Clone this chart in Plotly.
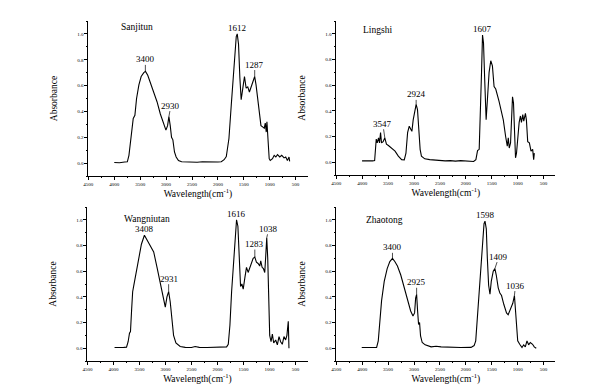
import plotly.graph_objects as go

# ---------------- data ----------------
sanjitun_wn = [4000, 3900, 3800, 3748, 3717, 3690, 3672, 3634, 3602, 3570, 3525, 3481, 3430, 3398, 3354,
               3303, 3239, 3175, 3111, 3048, 3003, 2971, 2946, 2920, 2895, 2869, 2838, 2806, 2761, 2700,
               2600, 2500, 2400, 2300, 2200, 2100, 2000, 1935, 1880, 1838, 1787, 1742, 1710, 1678, 1646,
               1627, 1602, 1576, 1551, 1519, 1487, 1455, 1424, 1392, 1354, 1315, 1290, 1264, 1232, 1201,
               1169, 1137, 1105, 1086, 1067, 1054, 1035, 1010, 990, 946, 914, 882, 850, 806, 768, 723,
               691, 659, 627, 615]
sanjitun_abs = [0.005, 0.003, 0.008, 0.01, 0.06, 0.15, 0.24, 0.345, 0.37, 0.50, 0.605, 0.67, 0.70, 0.71, 0.68,
                0.62, 0.55, 0.475, 0.38, 0.31, 0.255, 0.29, 0.36, 0.29, 0.20, 0.18, 0.086, 0.047, 0.02, 0.01,
                0.008, 0.01, 0.007, 0.01, 0.008, 0.006, 0.008, 0.01, 0.026, 0.05, 0.19, 0.45, 0.605, 0.79, 0.98,
                1.0, 0.92, 0.66, 0.49, 0.58, 0.67, 0.58, 0.59, 0.55, 0.59, 0.64, 0.67, 0.605, 0.50, 0.40,
                0.29, 0.28, 0.27, 0.31, 0.24, 0.32, 0.19, 0.034, 0.02, 0.034, 0.06, 0.047, 0.065, 0.047, 0.06, 0.04,
                0.047, 0.02, 0.047, 0.013]

lingshi_wn = [4003, 3900, 3800, 3760, 3748, 3729, 3710, 3685, 3666, 3646, 3627, 3596, 3564, 3532, 3494,
              3430, 3366, 3303, 3239, 3188, 3156, 3124, 3092, 3060, 3041, 3016, 2984, 2959, 2933, 2908,
              2882, 2857, 2793, 2697, 2600, 2500, 2400, 2300, 2200, 2100, 2000, 1900, 1850, 1806, 1774,
              1742, 1723, 1697, 1678, 1659, 1634, 1608, 1583, 1551, 1519, 1487, 1455, 1423, 1360, 1328,
              1277, 1232, 1200, 1181, 1162, 1137, 1118, 1099, 1080, 1061, 1041, 1022, 997, 971, 946,
              927, 901, 882, 850, 831, 806, 774, 742, 710, 691, 678]
lingshi_abs = [0.01, 0.008, 0.01, 0.012, 0.06, 0.18, 0.15, 0.19, 0.15, 0.23, 0.15, 0.16, 0.19, 0.14, 0.13,
               0.11, 0.086, 0.047, 0.02, 0.018, 0.07, 0.23, 0.28, 0.255, 0.24, 0.33, 0.42, 0.45, 0.41, 0.25,
               0.10, 0.047, 0.026, 0.02, 0.015, 0.012, 0.01, 0.012, 0.008, 0.012, 0.01, 0.01, 0.005, 0.02, 0.09,
               0.10, 0.31, 0.70, 0.99, 0.93, 0.62, 0.33, 0.49, 0.70, 0.79, 0.75, 0.59, 0.57, 0.475, 0.42,
               0.33, 0.20, 0.125, 0.19, 0.11, 0.15, 0.41, 0.51, 0.46, 0.23, 0.034, 0.07, 0.23, 0.31, 0.36,
               0.31, 0.37, 0.32, 0.38, 0.33, 0.16, 0.15, 0.086, 0.10, 0.02, 0.07]

wangniutan_wn = [3978, 3900, 3800, 3748, 3717, 3691, 3672, 3650, 3630, 3608, 3557, 3513, 3462, 3404, 3354,
                 3290, 3226, 3162, 3099, 3048, 3003, 2971, 2939, 2908, 2876, 2844, 2799, 2717, 2620, 2500,
                 2430, 2350, 2200, 2000, 1857, 1825, 1793, 1761, 1729, 1697, 1666, 1634, 1608, 1583, 1557,
                 1532, 1506, 1474, 1443, 1411, 1379, 1347, 1315, 1283, 1252, 1220, 1188, 1169, 1143, 1118,
                 1092, 1073, 1054, 1035, 1016, 997, 971, 946, 920, 882, 850, 818, 787, 755, 723,
                 691, 666, 640, 627]
wangniutan_abs = [0.005, 0.004, 0.006, 0.008, 0.05, 0.116, 0.13, 0.30, 0.44, 0.49, 0.61, 0.72, 0.81, 0.88, 0.84,
                  0.80, 0.75, 0.63, 0.515, 0.40, 0.32, 0.40, 0.44, 0.36, 0.21, 0.10, 0.04, 0.013, 0.006, 0.005,
                  0.013, 0.006, 0.005, 0.006, 0.006, 0.01, 0.03, 0.18, 0.44, 0.64, 0.82, 1.0, 0.95, 0.70, 0.48,
                  0.50, 0.46, 0.55, 0.63, 0.59, 0.63, 0.66, 0.70, 0.71, 0.67, 0.66, 0.64, 0.68, 0.63, 0.62,
                  0.59, 0.72, 0.86, 0.70, 0.36, 0.10, 0.05, 0.11, 0.04, 0.064, 0.026, 0.09, 0.05, 0.03, 0.09,
                  0.064, 0.10, 0.21, 0.0]

zhaotong_wn = [4009, 3900, 3800, 3722, 3690, 3658, 3626, 3575, 3518, 3467, 3416, 3371, 3320, 3256, 3193,
               3129, 3065, 3020, 2989, 2969, 2950, 2931, 2912, 2893, 2874, 2842, 2785, 2670, 2574, 2478,
               2300, 2100, 1900, 1840, 1809, 1777, 1745, 1713, 1681, 1649, 1630, 1605, 1585, 1560, 1534,
               1509, 1471, 1439, 1413, 1375, 1343, 1311, 1266, 1215, 1183, 1139, 1094, 1062, 1043, 1024,
               999, 960, 916, 884, 852, 820, 788, 756, 712, 680, 641]
zhaotong_abs = [0.005, 0.004, 0.005, 0.006, 0.057, 0.21, 0.37, 0.52, 0.62, 0.675, 0.70, 0.675, 0.64, 0.57, 0.48,
                0.38, 0.29, 0.25, 0.275, 0.39, 0.42, 0.29, 0.185, 0.20, 0.095, 0.044, 0.026, 0.01, 0.015, 0.01,
                0.006, 0.005, 0.006, 0.02, 0.057, 0.24, 0.49, 0.675, 0.83, 0.97, 0.99, 0.93, 0.70, 0.49, 0.42,
                0.52, 0.60, 0.62, 0.57, 0.47, 0.43, 0.41, 0.34, 0.275, 0.26, 0.30, 0.35, 0.41, 0.29, 0.134,
                0.057, 0.03, 0.005, 0.026, 0.01, 0.057, 0.026, 0.044, 0.03, 0.01, 0.0]

sample_names = ["Sanjitun", "Lingshi", "Wangniutan", "Zhaotong"]

# peak labels: text, position of the peak on the drawn curve
sanjitun_peaks = ["3400", "2930", "1612", "1287"]
sanjitun_peak_wn = [3400, 2946, 1627, 1290]
sanjitun_peak_abs = [0.71, 0.36, 1.0, 0.67]

lingshi_peaks = ["3547", "2924", "1607"]
lingshi_peak_wn = [3564, 2959, 1678]
lingshi_peak_abs = [0.19, 0.45, 0.99]

wangniutan_peaks = ["3408", "2931", "1616", "1283", "1038"]
wangniutan_peak_wn = [3404, 2939, 1634, 1283, 1054]
wangniutan_peak_abs = [0.88, 0.44, 1.0, 0.71, 0.86]

zhaotong_peaks = ["3400", "2925", "1598", "1409", "1036"]
zhaotong_peak_wn = [3416, 2950, 1630, 1439, 1062]
zhaotong_peak_abs = [0.70, 0.42, 0.99, 0.62, 0.41]

x_tickvals = [4500, 4000, 3500, 3000, 2500, 2000, 1500, 1000, 500]
x_ticktext = ["4500", "4000", "3500", "3000", "2500", "2000", "1500", "1000", "500"]
y_tickvals = [0.0, 0.2, 0.4, 0.6, 0.8, 1.0]
y_ticktext = ["0.0", "0.2", "0.4", "0.6", "0.8", "1.0"]

# ---------------- layout helpers ----------------
FONT = "Liberation Serif"
W, H = 604, 387

# panel pixel boxes (left, right, top, bottom)
boxes = [(76, 297, 13, 168), (326, 547, 13, 167), (75, 297, 199, 353), (326, 547, 199, 353)]
# label text offsets above peak (px, dy) and horizontal shifts (px, dx)
label_offsets = [[12, 11, 6, 12], [14, 10, 6], [6, 13, 6, 13, 9], [11, 12, 6, 12, 10]]
label_dx = [[0, 2, 0, 0], [-2, 0, 0], [0, 0, 0, 0, 2], [0, 0, 0, 4, 1]]
name_pos = [(3562, 1.05), (3696, 1.03), (3352, 1.01), (3562, 1.0)]

spectra = [(sanjitun_wn, sanjitun_abs), (lingshi_wn, lingshi_abs),
           (wangniutan_wn, wangniutan_abs), (zhaotong_wn, zhaotong_abs)]
peaks = [(sanjitun_peaks, sanjitun_peak_wn, sanjitun_peak_abs),
         (lingshi_peaks, lingshi_peak_wn, lingshi_peak_abs),
         (wangniutan_peaks, wangniutan_peak_wn, wangniutan_peak_abs),
         (zhaotong_peaks, zhaotong_peak_wn, zhaotong_peak_abs)]

fig = go.Figure()
layout = dict(width=W, height=H, margin=dict(l=0, r=0, t=0, b=0),
              paper_bgcolor="white", plot_bgcolor="white", showlegend=False,
              font=dict(family=FONT, color="black"))
annotations = []

for i in range(4):
    n = "" if i == 0 else str(i + 1)
    xa, ya = "x" + n, "y" + n
    l, r, t, b = boxes[i]
    wn, ab = spectra[i]
    fig.add_trace(go.Scatter(x=wn, y=ab, mode="lines", xaxis=xa, yaxis=ya,
                             line=dict(color="black", width=1.1), hoverinfo="skip"))
    common = dict(showline=True, linecolor="black", linewidth=0.8, showgrid=False, zeroline=False,
                  ticks="outside", ticklen=3, tickwidth=0.7, tickcolor="black",
                  tickfont=dict(family=FONT, size=5, color="black"))
    layout["xaxis" + n] = dict(common, domain=[l / W, r / W], anchor=ya, range=[4500, 270],
                               tickvals=x_tickvals, ticktext=x_ticktext,
                               minor=dict(dtick=250, ticks="outside", ticklen=1.5, tickcolor="black"),
                               title=dict(text="Wavelength(cm<sup>-1</sup>)", standoff=4,
                                          font=dict(family=FONT, size=9.5, color="black")))
    layout["yaxis" + n] = dict(common, domain=[1 - b / H, 1 - t / H], anchor=xa, range=[-0.1, 1.1],
                               tickvals=y_tickvals, ticktext=y_ticktext,
                               minor=dict(dtick=0.1, ticks="outside", ticklen=1.5, tickcolor="black"),
                               title=dict(text="Absorbance", standoff=17,
                                          font=dict(family=FONT, size=9.5, color="black")))
    # sample name
    annotations.append(dict(x=name_pos[i][0], y=name_pos[i][1], xref=xa, yref=ya, text=sample_names[i],
                            showarrow=False, font=dict(family=FONT, size=9.5, color="black")))
    # peak labels
    txt, pw, pa = peaks[i]
    for k in range(len(txt)):
        off = label_offsets[i][k]
        dx = label_dx[i][k]
        if off > 7:
            annotations.append(dict(x=pw[k], y=pa[k], xref=xa, yref=ya, text=txt[k], showarrow=True,
                                    arrowhead=0, arrowwidth=0.7, arrowcolor="black", ax=dx, ay=-off,
                                    standoff=0, borderpad=0,
                                    font=dict(family=FONT, size=9, color="black")))
        else:
            annotations.append(dict(x=pw[k], y=pa[k], xref=xa, yref=ya, text=txt[k], showarrow=False,
                                    yshift=off, xshift=dx, font=dict(family=FONT, size=9, color="black")))

layout["annotations"] = annotations
fig.update_layout(**layout)
fig.write_html("out.html")
